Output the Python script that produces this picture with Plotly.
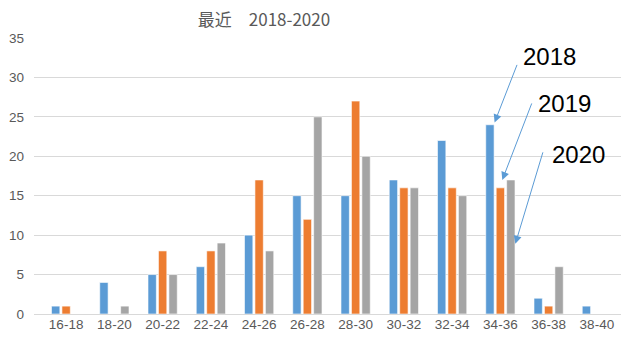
import plotly.graph_objects as go

# Age bands and counts per year
categories = ["16-18", "18-20", "20-22", "22-24", "24-26", "26-28",
              "28-30", "30-32", "32-34", "34-36", "36-38", "38-40"]
series_names = ["2018", "2019", "2020"]
values_2018 = [1, 4, 5, 6, 10, 15, 15, 17, 22, 24, 2, 1]
values_2019 = [1, 0, 8, 8, 17, 12, 27, 16, 16, 16, 1, 0]
values_2020 = [0, 1, 5, 9, 8, 25, 20, 16, 15, 17, 6, 0]
y_ticks = [0, 5, 10, 15, 20, 25, 30, 35]

colors = ["#5B9BD5", "#ED7D31", "#A5A5A5"]
all_values = [values_2018, values_2019, values_2020]

fig = go.Figure()
for name, vals, col in zip(series_names, all_values, colors):
    fig.add_trace(go.Bar(
        x=categories, y=vals, name=name,
        marker=dict(color=col, line=dict(color="white", width=0.6)),
    ))

# Callout labels pointing at the 34-36 group
idx = categories.index("34-36")
callouts = [
    # (text, text x, text y, arrow tip x, arrow tip y, tail dx, tail dy)
    (series_names[0], idx + 1.02, 32.6, idx - 0.12, values_2018[idx] + 0.3, 23, -59),
    (series_names[1], idx + 1.33, 26.7, idx + 0.04, values_2019[idx] + 1.0, 30, -78),
    (series_names[2], idx + 1.62, 20.2, idx + 0.31, values_2020[idx] - 8.1, 28, -93),
]
for text, tx, ty, hx, hy, dx, dy in callouts:
    fig.add_annotation(x=tx, y=ty, xref="x", yref="y", text=text, showarrow=False,
                       font=dict(family="Liberation Sans, Arial", size=24, color="#000000"))
    fig.add_annotation(x=hx, y=hy, xref="x", yref="y", text="", showarrow=True,
                       ax=dx, ay=dy, arrowhead=2, arrowsize=1.6, arrowwidth=1,
                       arrowcolor="#5B9BD5")

fig.update_layout(
    width=621, height=343,
    margin=dict(l=34, r=0, t=38, b=29),
    paper_bgcolor="white", plot_bgcolor="white",
    barmode="group", bargap=0.35, bargroupgap=0.2,
    showlegend=False,
    title=dict(text="最近　2018-2020", x=264 / 621, xanchor="center", y=1 - 20 / 343, yanchor="middle",
               font=dict(family="Noto Sans CJK JP, Liberation Sans", size=17, color="#595959")),
    font=dict(family="Liberation Sans, Arial", size=13.5, color="#595959"),
)
fig.update_xaxes(type="category", showgrid=False, showline=False, ticks="",
                 tickfont=dict(size=13.5, color="#595959"),
                 range=[-0.5 - 8 / 48.25, len(categories) - 0.5])
fig.update_yaxes(range=[0, 35], tickvals=y_ticks, showgrid=True, gridcolor="#D9D9D9", gridwidth=1,
                 zeroline=True, zerolinecolor="#D9D9D9", zerolinewidth=1, showline=False,
                 ticklabelstandoff=9, tickfont=dict(size=13.5, color="#595959"))

fig.write_html("out.html")
